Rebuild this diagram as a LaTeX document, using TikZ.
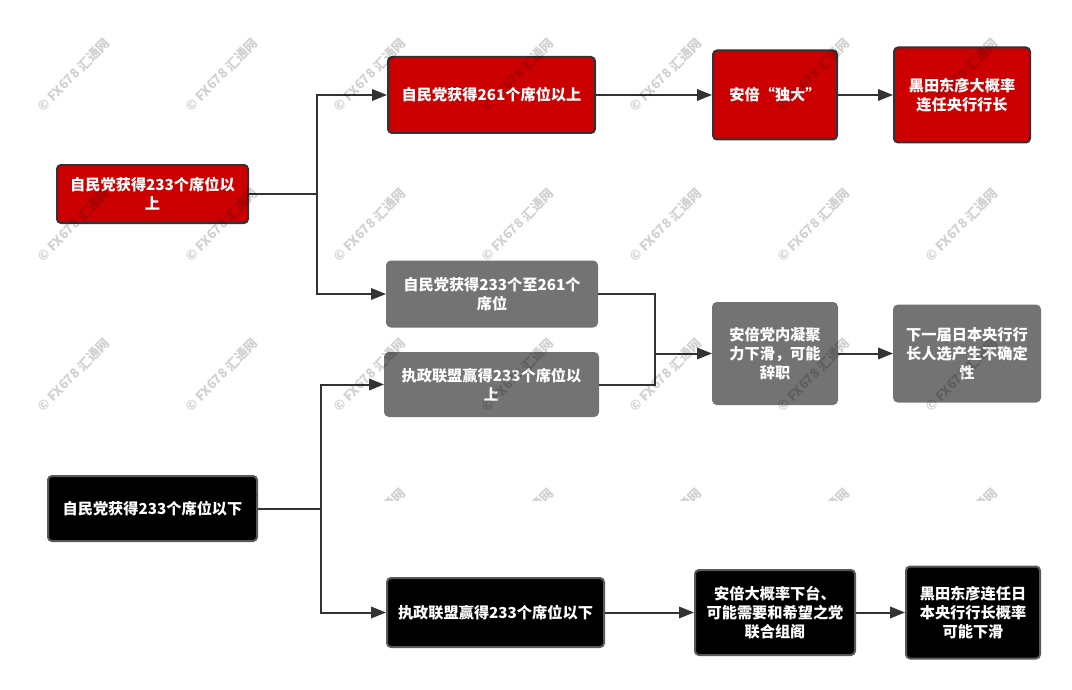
\documentclass[tikz,border=0pt]{standalone}
\usepackage{fontspec}
\setmainfont{Noto Sans CJK SC}
\usetikzlibrary{arrows.meta, positioning}
\definecolor{boxred}{HTML}{CC0000}
\definecolor{boxgray}{HTML}{737373}
\definecolor{linedark}{HTML}{333333}
\tikzset{
  outcome/.style={shape=rectangle, rounded corners=0.08cm, draw, line width=0.04cm, text=white,
    align=center, inner sep=0cm, font=\fontsize{8.65}{10.8}\selectfont\bfseries},
  redbox/.style={outcome, fill=boxred, draw=linedark},
  graybox/.style={outcome, fill=boxgray, draw=boxgray},
  blackbox/.style={outcome, fill=black, draw=black!65},
  link/.style={draw=linedark, line width=0.04cm},
  mark text/.style={rotate=45, text=black, opacity=0.18, inner sep=0cm,
    font=\fontsize{7.4}{7.4}\selectfont\bfseries}
}
\begin{document}
\begin{tikzpicture}[>={Triangle[length=0.3cm, width=0.23cm]}]
  \useasboundingbox (0,0) rectangle (21.44,-13.8);

  \node[redbox, minimum width=3.82cm, minimum height=1.16cm] (seats-over) at (3.05,-3.88) {自民党获得233个席位以\\上};
  \node[redbox, minimum width=4.14cm, minimum height=1.52cm] (seats-261) at (9.83,-1.9) {自民党获得261个席位以上};
  \node[redbox, minimum width=2.48cm, minimum height=1.78cm] (abe-strong) at (15.5,-1.9) {安倍“独大”};
  \node[redbox, minimum width=2.72cm, minimum height=1.9cm] (kuroda-stay) at (19.24,-1.9) {黑田东彦大概率\\连任央行行长};

  \node[graybox, minimum width=4.2cm, minimum height=1.3cm] (seats-mid) at (9.84,-5.88) {自民党获得233个至261个\\席位};
  \node[graybox, minimum width=4.26cm, minimum height=1.26cm] (coalition-over) at (9.83,-7.69) {执政联盟赢得233个席位以\\上};
  \node[graybox, minimum width=2.48cm, minimum height=2.02cm] (abe-weak) at (15.5,-7.07) {安倍党内凝聚\\力下滑，可能\\辞职};
  \node[graybox, minimum width=2.92cm, minimum height=1.92cm] (boj-open) at (19.34,-7.07) {下一届日本央行行\\长人选产生不确定\\性};

  \node[blackbox, minimum width=4.18cm, minimum height=1.3cm] (seats-under) at (3.05,-10.17) {自民党获得233个席位以下};
  \node[blackbox, minimum width=4.34cm, minimum height=1.38cm] (coalition-under) at (9.91,-12.25) {执政联盟赢得233个席位以下};
  \node[blackbox, minimum width=3.2cm, minimum height=1.7cm] (abe-out) at (15.5,-12.25) {安倍大概率下台、\\可能需要和希望之党\\联合组阁};
  \node[blackbox, minimum width=2.68cm, minimum height=1.84cm] (kuroda-fall) at (19.46,-12.25) {黑田东彦连任日\\本央行行长概率\\可能下滑};

  \coordinate (split-top) at (6.34,-3.88);
  \coordinate (split-low) at (6.42,-10.17);
  \coordinate (merge) at (13.1,-7.07);

  \draw[link, ->] (seats-over.east) -- (split-top) |- (seats-261.west);
  \draw[link, ->] (split-top) |- (seats-mid.west);
  \draw[link, ->] (seats-under.east) -- (split-low) |- (coalition-over.west);
  \draw[link, ->] (split-low) |- (coalition-under.west);
  \draw[link] (seats-mid.east) -| (merge);
  \draw[link] (coalition-over.east) -| (merge);
  \draw[link, ->] (merge) -- (abe-weak.west);
  \draw[link, ->] (seats-261.east) -- (abe-strong.west);
  \draw[link, ->] (abe-strong.east) -- (kuroda-stay.west);
  \draw[link, ->] (abe-weak.east) -- (boj-open.west);
  \draw[link, ->] (coalition-under.east) -- (abe-out.west);
  \draw[link, ->] (abe-out.east) -- (kuroda-fall.west);

  % watermark
  \begin{scope}
    \clip (0,0) rectangle (21.44,-10);
    \foreach \y/\row in {1.5/a, 4.5/b, 7.5/c, 10.5/d} {
      \foreach \x in {0, 1, 2, 3, 4, 5, 6} {
        \node[mark text] (mark-\row\x) at (1.47+2.96*\x,-\y) {© FX678 汇通网};
      }
    }
  \end{scope}
\end{tikzpicture}
\end{document}
